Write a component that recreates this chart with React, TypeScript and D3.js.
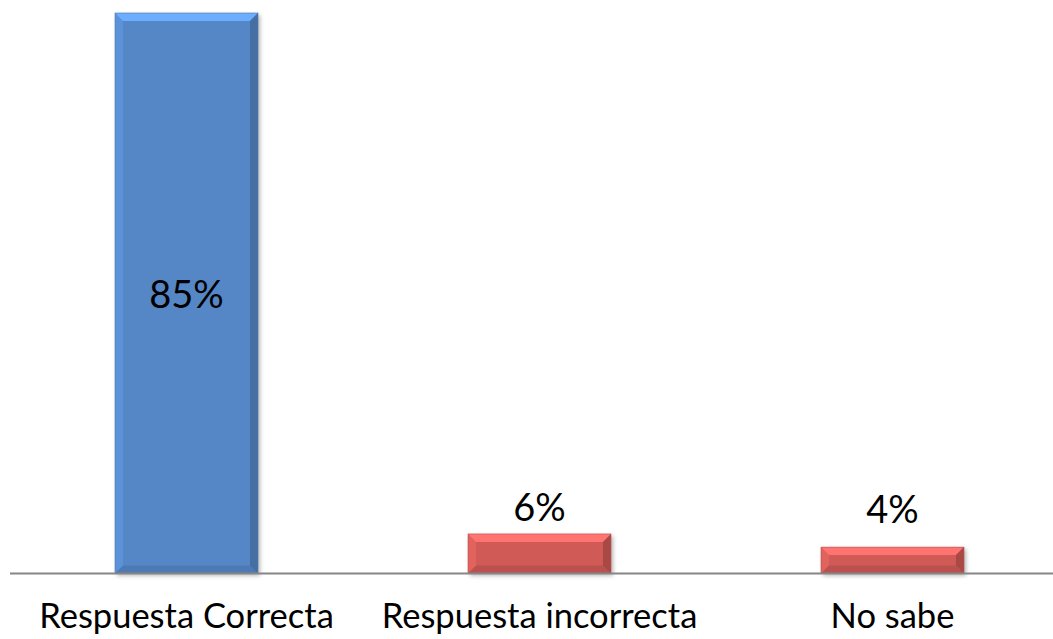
import React from "react";
import * as d3 from "d3";

const categories = ["Respuesta Correcta", "Respuesta incorrecta", "No sabe"];
const values = [85, 6, 4];
const valueLabels = ["85%", "6%", "4%"];
const seriesColors = ["#5587c7", "#d05a57", "#d05a57"];

const W = 1053;
const H = 639;
const baseY = 573.5;
const topY = 13;

export default function App() {
  const x = d3
    .scaleBand<string>()
    .domain(categories)
    .range([10, 1069])
    .paddingInner(0.595)
    .paddingOuter(0.2975);
  const y = d3.scaleLinear().domain([0, 85]).range([baseY, topY]);
  const bw = x.bandwidth();
  const bev = 8;
  const font = "Lato, 'Open Sans', sans-serif";

  return (
    <svg width={W} height={H} style={{ position: "absolute", left: 0, top: 0, background: "#fff" }}>
      <defs>
        <filter id="sh" x="-20%" y="-20%" width="140%" height="140%">
          <feDropShadow dx="2" dy="2" stdDeviation="2" floodColor="#000" floodOpacity="0.3" />
        </filter>
      </defs>
      {categories.map((c, i) => {
        const x0 = x(c)!;
        const x1 = x0 + bw;
        const yt = y(values[i]);
        const yb = baseY;
        const col = d3.color(seriesColors[i])!;
        const light = col.brighter(0.45).formatHex();
        const lighter = col.brighter(0.7).formatHex();
        const dark = col.darker(0.5).formatHex();
        const darker = col.darker(0.8).formatHex();
        const b = Math.min(bev, (yb - yt) / 2);
        const labelY = i === 0 ? (yt + yb) / 2 + 15 : Math.min(yt - 13, baseY - 51);
        return (
          <g key={c}>
            <rect x={x0} y={yt} width={bw} height={yb - yt} fill={seriesColors[i]} filter="url(#sh)" />
            <polygon points={`${x0},${yt} ${x1},${yt} ${x1 - b},${yt + b} ${x0 + b},${yt + b}`} fill={lighter} />
            <polygon points={`${x0},${yt} ${x0 + b},${yt + b} ${x0 + b},${yb - b} ${x0},${yb}`} fill={light} opacity={0.5} />
            <polygon points={`${x1},${yt} ${x1},${yb} ${x1 - b},${yb - b} ${x1 - b},${yt + b}`} fill={darker} opacity={0.75} />
            <polygon points={`${x0},${yb} ${x0 + b},${yb - b} ${x1 - b},${yb - b} ${x1},${yb}`} fill={dark} opacity={0.6} />
            <rect x={x0} y={yt} width={bw} height={yb - yt} fill="none" stroke={col.darker(0.3).formatHex()} strokeWidth={0.6} />
            <text x={x0 + bw / 2} y={labelY} textAnchor="middle" fontFamily={font} fontSize={38} fill="#000">
              {valueLabels[i]}
            </text>
            <text x={x0 + bw / 2} y={628} textAnchor="middle" fontFamily={font} fontSize={34.5} fill="#000">
              {c}
            </text>
          </g>
        );
      })}
      <line x1={10} x2={W} y1={baseY} y2={baseY} stroke="#868686" strokeWidth={2} />
    </svg>
  );
}
